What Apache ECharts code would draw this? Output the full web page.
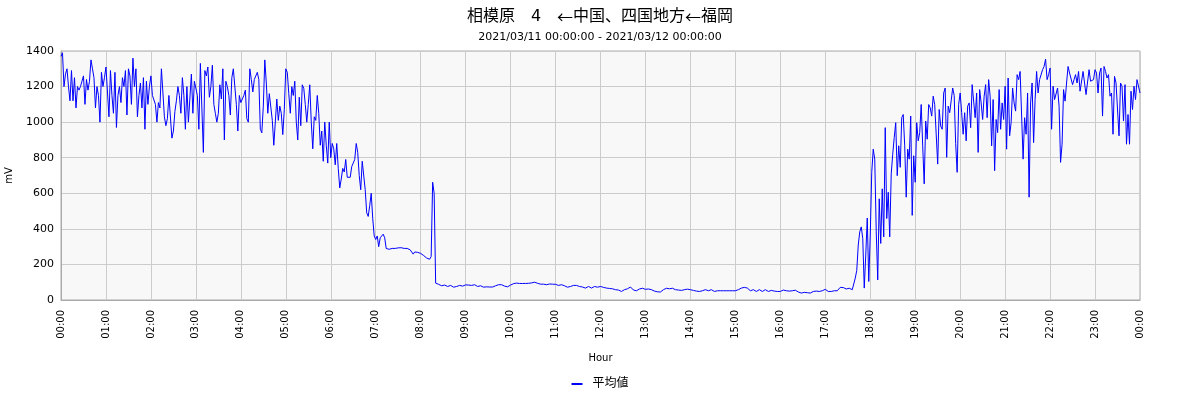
<!DOCTYPE html>
<html><head><meta charset="utf-8">
<script src="https://cdn.jsdelivr.net/npm/echarts@6/dist/echarts.min.js"></script>
<style>html,body{margin:0;padding:0;background:#fff}#c{width:1200px;height:400px}</style>
</head><body><div id="c"></div>
<script>
// ---- text ----
const chartTitle = '相模原　4　{arr|←}中国、四国地方{arr|←}福岡';
const chartSubtitle = '2021/03/11 00:00:00 - 2021/03/12 00:00:00';
const seriesName = '平均値';
const xAxisName = 'Hour';
const yAxisName = 'mV';

// ---- data: minutes since 00:00, values in mV ----
// 00:00 - 08:18, one value every 2 minutes
const h00 = [1370,1390,1200,1270,1300,1200,1120,1290,1120,1250,1080,1200,1180,1200,1230,1260,1100,1240,1180,1230,1350,1300,1250,1080,1200,1150,1000,1280,1200,1250];
const h01 = [1310,1320,1030,1290,1150,1050,1280,970,1150,1200,1110,1250,1200,1290,1040,1300,1260,1100,1360,1200,1300,1030,1150,1220,1080,1250,960,1230,1100,1200];
const h02 = [1260,1150,1150,1100,1000,1110,1080,1300,1290,1030,980,1020,1150,1150,910,950,1060,1120,1200,1150,1050,1250,1150,960,1200,1000,990,1270,1050,1230];
const h03 = [1230,1150,960,1330,1340,830,1290,1260,1310,1140,1200,1320,1100,1050,1000,1050,1210,1130,1300,900,1230,1200,1150,1040,1250,1300,1300,1100,950,1150];
const h04 = [1110,1130,1150,1180,1020,1000,1300,1240,1170,1240,1250,1280,1240,960,940,1090,1350,1220,1050,1160,1170,1010,870,860,1130,1010,1090,1050,930,1070];
const h05 = [1300,1280,1160,1050,1200,1150,1230,1000,900,1140,980,1210,1190,1100,1000,1100,1210,1000,850,1030,1010,1150,1050,870,950,780,1000,870,770,1000];
const h06 = [800,880,850,760,880,740,630,680,740,720,790,690,700,690,750,770,790,880,830,700,620,780,790,620,490,470,530,600,460,360];
const h07 = [340,360,300,350,340,370,350,290,300,285,295,290,297,290,295,293,286,294,287,290,286,290,280,282,270,258,270,265,268,272];
const h08 = [262,258,250,244,236,232,229,245,662,600];

// 08:20 - 17:36, one value every 4 minutes
const flat08 = [95,88,80,84,76,82,72,76,82,78];
const flat09 = [85,84,82,86,76,80,72,74,73,73,80,86,86,78,74];
const flat10 = [84,92,95,93,93,93,94,96,100,94,89,89,86,90,89];
const flat11 = [88,82,86,80,72,76,82,82,76,73,67,76,67,76,72];
const flat12 = [76,71,67,65,63,58,56,48,58,63,73,56,52,62,66];
const flat13 = [60,62,58,50,46,45,58,66,63,66,58,56,54,58,61];
const flat14 = [58,54,50,48,52,58,52,58,48,52,52,52,52,52,52];
const flat15 = [52,58,67,71,67,52,58,48,58,48,58,48,54,50,48];
const flat16 = [48,56,52,50,52,55,45,39,43,41,39,48,50,48,52];
const flat17 = [60,48,48,52,52,71,70,62,66,58];

// 17:38 - 24:00, one value every 2 minutes
const eve1 = [60,123,166,309,383,411,346,67,253,461,104,365,718,848,792,383,113,569,318,625,355,969,458,606,355,709,820,913,997,699,867,746,1025,1043,867,578,848,792,1034,476,811,662,997,895,941,1099,867,653,1006,904,1099,1081,1034,1146,1099,1108,764,1071,978,960,1164,1192,802,1090,1053,1120,1192,1150,880,718,1100];
const eve2 = [1164,1053,932,1053,895,1090,1108,969,1211,1202,1025,1164,830,1183,1108,1015,1146,1211,1025,1239,1146,867,1127,727,1015,941,1183,960,1108,1015,1202,848,1248,923,997,1192,1108,1062,1267,1239,1285,1276,792,1025,932,1164,578,1108,1220,885,1127,1285,1164,1239,1248,1295,1313,1354,1239,1267,1304,960,1202,1127,1136,1192,1090,774,876,1183,1118,1220,1313,1276,1285,1211,1239,1267,1220,1285,1174,1183,1285,1276,1155,1155,1295,1230,1220,1239,1295,1276,1164,1276,1304,1034,1313,1285,1248,1267,1146,1164,932,1257,1220,1220,923,1220,1202,1006,1211,876,1043,876,1174,1071,1202,1127,1239,1248,1164];

const morningStart = 0, morningStep = 2;
const flatStart = 500, flatStep = 4;
const eveningStart = 1058, eveningStep = 2;

const morning = [].concat(h00,h01,h02,h03,h04,h05,h06,h07,h08);
const flat = [].concat(flat08,flat09,flat10,flat11,flat12,flat13,flat14,flat15,flat16,flat17);
const evening = [].concat(eve1, eve2);

function seg(start, step, vals){ return vals.map((v,i)=>[start+i*step, v]); }
const lineData = [].concat(seg(morningStart,morningStep,morning), seg(flatStart,flatStep,flat), seg(eveningStart,eveningStep,evening));

const FONT = '"DejaVu Sans", "Noto Sans CJK JP", sans-serif';
const CJK = '"Noto Sans CJK JP", sans-serif';
const pad = n => (n<10?'0':'')+n;

const chart = echarts.init(document.getElementById('c'), null, {renderer:'canvas'});
chart.setOption({
  animation: false,
  backgroundColor: '#ffffff',
  textStyle: {fontFamily: FONT},
  title: [
    {text: chartTitle, left: 'center', top: 4,
     textStyle: {fontFamily: FONT, fontSize: 16, fontWeight: 'normal', color: '#000',
       rich: {arr: {fontFamily: CJK, fontSize: 16, color: '#000'}}}},
    {text: chartSubtitle, left: 'center', top: 27, textStyle: {fontFamily: FONT, fontSize: 11, fontWeight: 'normal', color: '#000'}}
  ],
  legend: {
    data: [seriesName], left: 'center', top: 373, icon: 'rect', itemWidth: 11, itemHeight: 2, itemGap: 10,
    textStyle: {fontFamily: FONT, fontSize: 12, color: '#000', padding: [0,0,0,5]}
  },
  grid: {left: 61, right: 60, top: 51, bottom: 100, outerBoundsMode: 'none', containLabel: false,
    show: true, backgroundColor: '#f8f8f8', borderColor: '#aaaaaa', borderWidth: 1},
  xAxis: {
    type: 'value', min: 0, max: 1440, interval: 60,
    name: xAxisName, nameLocation: 'middle', nameGap: 53,
    nameTextStyle: {fontFamily: FONT, fontSize: 10, color: '#000'},
    axisLine: {show: true, lineStyle: {color: '#aaaaaa'}},
    axisTick: {show: false},
    axisLabel: {rotate: 90, fontSize: 10, color: '#000', fontFamily: FONT, margin: 10,
      formatter: v => pad(Math.floor(v/60)%24)+':00'},
    splitLine: {show: true, lineStyle: {color: '#cccccc', width: 1}}
  },
  yAxis: {
    type: 'value', min: 0, max: 1400, interval: 200,
    name: yAxisName, nameLocation: 'middle', nameGap: 47, nameRotate: 90,
    nameTextStyle: {fontFamily: FONT, fontSize: 10, color: '#000'},
    axisLine: {show: true, lineStyle: {color: '#aaaaaa'}},
    axisTick: {show: false},
    axisLabel: {fontSize: 11, color: '#000', fontFamily: FONT, margin: 7, formatter: v => String(v)},
    splitLine: {show: true, lineStyle: {color: '#cccccc', width: 1}}
  },
  series: [{
    name: seriesName, type: 'line', data: lineData, showSymbol: false, symbol: 'none',
    lineStyle: {color: '#0000ff', width: 1}, itemStyle: {color: '#0000ff'}
  }]
});
</script></body></html>
